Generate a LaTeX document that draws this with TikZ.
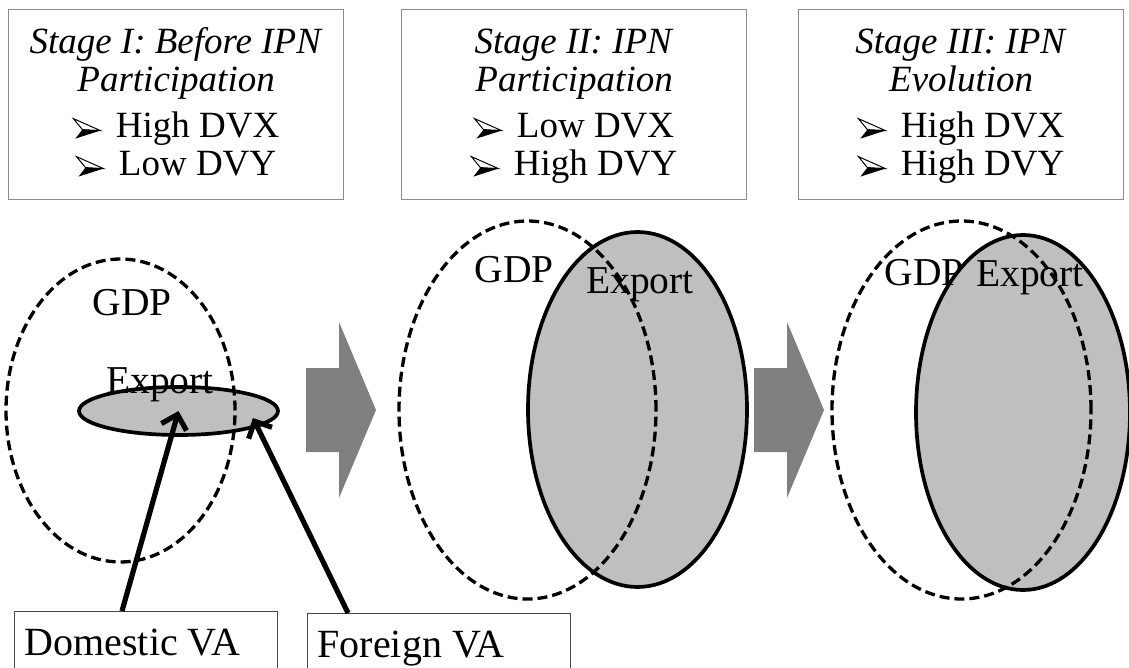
\documentclass[tikz,border=0pt]{standalone}
\usepackage{fontspec}
\setmainfont{Liberation Serif}
\usetikzlibrary{shapes.geometric,arrows.meta,calc}
\definecolor{expfill}{RGB}{191,191,191}
\definecolor{arrowgray}{RGB}{128,128,128}
\definecolor{boxline}{RGB}{140,140,140}
\definecolor{vaboxline}{RGB}{70,70,70}
\newcommand{\bul}{\tikz[x=1pt,y=1pt,baseline=0pt,line width=1pt,line join=miter]{%
  \filldraw[fill=white,draw=black] (0,19) -- (27,7) -- (9,8) -- cycle;
  \fill[black] (9,8) -- (27,7) -- (2,-1) -- cycle;}\hspace{15pt}}
\newcommand{\hdrtext}[5]{\parbox[c][190pt][t]{#1}{\centering\fontsize{37}{38}\selectfont
  \rule{0pt}{44pt}\textit{#2}\\ \textit{#3}\\[8pt] \bul #4\\ \bul #5}}
\newcommand{\vatext}[1]{\parbox[c][100pt][t]{263pt}{\fontsize{40}{44}\selectfont
  \rule{0pt}{44pt}\hspace*{10pt}#1}}
\begin{document}
\begin{tikzpicture}[x=1pt,y=-1pt,
  hdr/.style={draw=boxline,line width=1.2pt,inner sep=0pt,anchor=north west},
  gdp/.style={ellipse,draw=black,dash pattern=on 10pt off 5pt,line width=3.3pt,inner sep=0pt},
  expo/.style={ellipse,draw=black,fill=expfill,line width=3.7pt,inner sep=0pt},
  lbl/.style={anchor=base,inner sep=0pt,font=\fontsize{39.5}{44}\selectfont},
  blockarrow/.style={fill=arrowgray,draw=none},
  vabox/.style={draw=vaboxline,line width=1.2pt,inner sep=0pt,anchor=north west},
  vaarrow/.style={line width=5.2pt,-{Straight Barb[length=13pt,width=26pt]}}
]
\useasboundingbox (0,0) rectangle (1129,668);
\begin{scope}
\clip (0,0) rectangle (1129,668);

% header boxes
\node[hdr] (hdr1) at (8,9) {\hdrtext{335pt}{Stage I: Before IPN}{Participation}{High DVX}{Low DVY}};
\node[hdr] (hdr2) at (401,9) {\hdrtext{345pt}{Stage II: IPN}{Participation}{Low DVX}{High DVY}};
\node[hdr] (hdr3) at (798,9) {\hdrtext{325pt}{Stage III: IPN}{Evolution}{High DVX}{High DVY}};

% stage 1
\node[expo,minimum width=199pt,minimum height=48pt] (exp1) at (178.5,411) {};
\node[gdp,minimum width=229pt,minimum height=303pt] (gdp1) at (120.5,410.5) {};
\node[lbl] (gdp1t) at (132,315) {GDP};
\node[lbl] (exp1t) at (160,393) {Export};

% stage 2
\node[expo,minimum width=219pt,minimum height=355pt] (exp2) at (637.5,409.5) {};
\node[gdp,minimum width=257pt,minimum height=378pt] (gdp2) at (527.5,410) {};
\node[lbl] (gdp2t) at (514,283) {GDP};
\node[lbl] (exp2t) at (640,293) {Export};

% stage 3
\node[expo,minimum width=214pt,minimum height=355pt] (exp3) at (1023,412.5) {};
\node[gdp,minimum width=259pt,minimum height=378pt] (gdp3) at (961.5,410) {};
\node[lbl] (gdp3t) at (924,285) {GDP};
\node[lbl] (exp3t) at (1030,287) {Export};

% block arrows
\fill[blockarrow] (306,368) -- (339,368) -- (339,322) -- (376,410) -- (339,498) -- (339,452) -- (306,452) -- cycle;
\fill[blockarrow] (754,368) -- (787,368) -- (787,322) -- (824,410) -- (787,498) -- (787,452) -- (754,452) -- cycle;

% value-added boxes
\node[vabox] (dom) at (14,611) {\vatext{Domestic VA}};
\node[vabox] (frn) at (307,613) {\vatext{Foreign VA}};

\coordinate (fTip) at (253,418);
\draw[vaarrow] ($(dom.north west)+(108,0)$) -- (exp1.center);
\draw[vaarrow] ($(frn.north west)+(41,0)$) -- (fTip);
\end{scope}
\end{tikzpicture}
\end{document}
